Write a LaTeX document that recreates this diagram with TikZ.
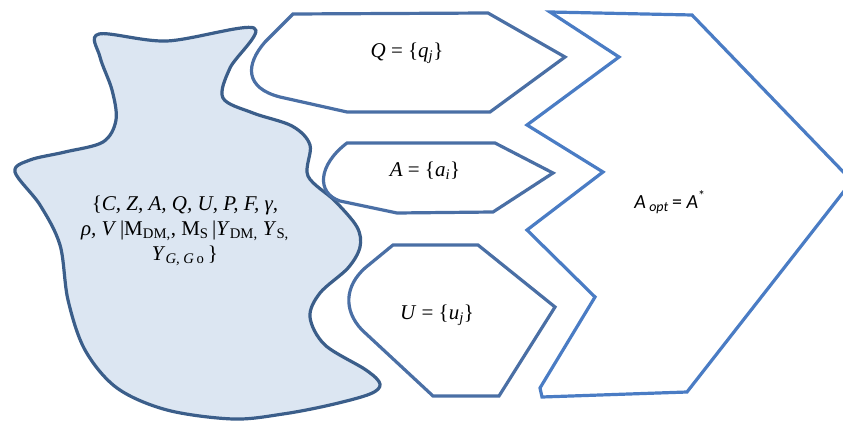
\documentclass[tikz,border=0pt]{standalone}
\usepackage{fontspec}
\setmainfont{Liberation Serif}
\newfontfamily\calfont{Carlito}
\usepackage{tikz}
\definecolor{blobfill}{HTML}{DCE6F2}
\definecolor{blobline}{HTML}{3B5E8A}
\definecolor{setline}{HTML}{4A6FA5}
\definecolor{optline}{HTML}{4A7CC4}

\begin{document}
\begin{tikzpicture}[
  x=1pt, y=-1pt,
  blob/.style={draw=blobline, fill=blobfill, line width=3.2pt, line join=round},
  setbox/.style={draw=setline, line width=3.2pt, line join=miter},
  optbox/.style={draw=optline, line width=3.2pt, line join=miter},
  label/.style={font=\fontsize{21}{24}\selectfont, align=center}
]
\useasboundingbox (0,0) rectangle (843,425);
\clip (0,0) rectangle (843,425);

% source blob
\draw[blob] plot[smooth cycle, tension=0.55] coordinates {
  (99,34) (167,41) (254,28) (230,68) (223,98) (253,113) (292,126)
  (310,145) (308,176) (335,201) (357,227) (360,247) (348,268)
  (320,293) (310,317) (325,345) (366,370) (380,384) (370,394)
  (330,405) (283,414) (233,419) (167,410) (117,388) (85,350)
  (68,300) (60,245) (40,205) (15,172) (30,160) (65,152) (103,142)
  (116,120) (112,90) (100,57)};
\node[label, font=\fontsize{21}{25}\selectfont] (src) at (185,231)
  {\{\textit{C, Z, A, Q, U, P, F, γ,}\\
   \textit{ρ, V}\,|M\textsubscript{DM,}, M\textsubscript{S}\,|\textit{Y}\textsubscript{DM,} \textit{Y}\textsubscript{S,}\\
   \textit{Y}\textsubscript{\textit{G, G}\,o}\,\}};

% sets
\draw[setbox] (293,14) -- (488,13) -- (565,57) -- (490,112) -- (347,112)
  -- (280,97) .. controls (245,88) and (245,65) .. (265,42) -- cycle;
\draw[setbox] (352,143) -- (495,143) -- (553,173) -- (493,212) -- (397,213)
  -- (340,201) .. controls (316,193) and (318,165) .. (347,143) -- cycle;
\draw[setbox] (393,245) -- (478,245) -- (555,307) -- (499,396) -- (433,396)
  -- (362,330) .. controls (343,310) and (345,286) .. (365,268) -- cycle;
\node[label] (qset) at (407,53) {\textit{Q} = \{\textit{q}\textsubscript{\textit{j}}\}};
\node[label] (aset) at (425,171) {\textit{A} = \{\textit{a}\textsubscript{\textit{i}}\}};
\node[label] (uset) at (437,315) {\textit{U} = \{\textit{u}\textsubscript{\textit{j}}\}};

% optimum
\draw[optbox] (550,12) -- (692,15) -- (852,181) -- (687,392) -- (542,397)
  -- (540,388) -- (595,297) -- (527,230) -- (603,172) -- (527,125)
  -- (619,57) -- cycle;
\node[label, font=\calfont\fontsize{20}{23}\selectfont] (opt) at (670,202)
  {\textit{A}\,\textsubscript{\textit{opt}}\,= \textit{A}\textsuperscript{*}};
\end{tikzpicture}
\end{document}
